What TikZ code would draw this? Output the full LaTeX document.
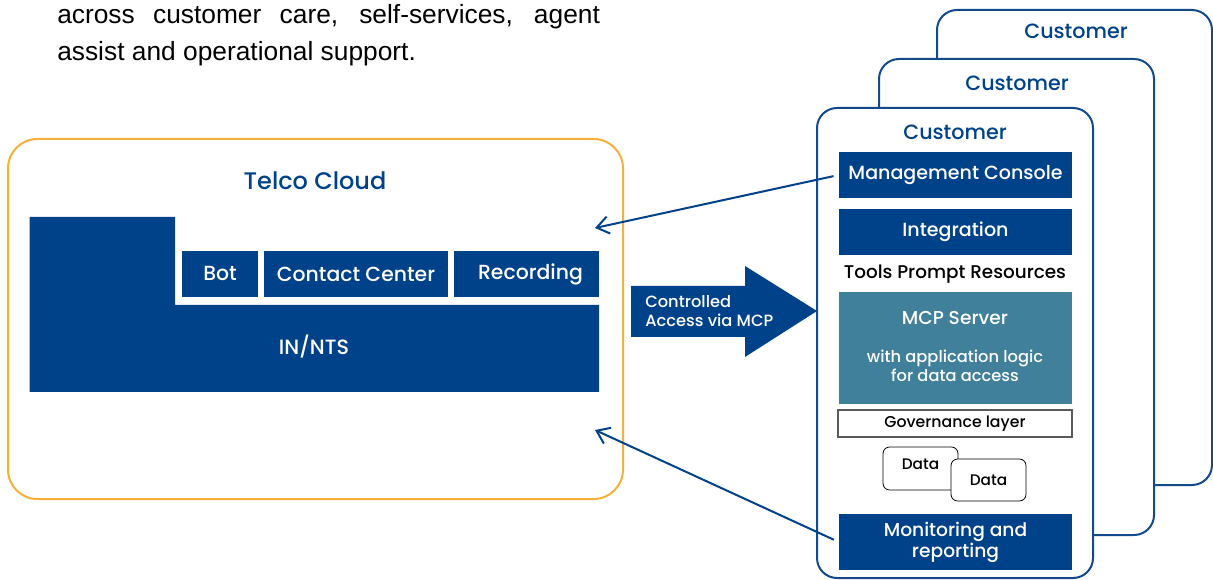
\documentclass[tikz,border=0pt]{standalone}
\usepackage{fontspec}
\setmainfont{Poppins}[UprightFont={* Medium}]
\newfontfamily\arialfont{Liberation Sans}
\usetikzlibrary{arrows.meta,positioning}
\definecolor{navy}{RGB}{0,66,137}
\definecolor{cardblue}{RGB}{18,74,140}
\definecolor{teal}{RGB}{64,128,155}
\definecolor{amber}{RGB}{246,176,58}
\definecolor{govgray}{RGB}{90,90,90}
\newcommand\nohyph{\hyphenpenalty=10000\relax\exhyphenpenalty=10000\relax}
\begin{document}
\begin{tikzpicture}[x=0.75pt,y=-0.75pt,
  blk/.style={fill=navy,text=white,inner sep=0pt,font=\fontsize{14.3}{16}\selectfont},
  card/.style={draw=cardblue,line width=1.5pt,fill=white,rounded corners=15pt},
  lbl/.style={text=navy,inner sep=0pt,font=\fontsize{15.5}{17}\selectfont},
  dat/.style={draw=black,line width=0.6pt,fill=white,rounded corners=5pt,minimum width=56.25pt,inner sep=0pt,font=\fontsize{11.5}{13}\selectfont},
  link/.style={draw=navy,line width=1.5pt,-{Straight Barb[length=9pt,width=13pt,line width=1.5pt]}}]
\useasboundingbox (0,0) rectangle (1213,580);
\node[anchor=base west,text width=407pt,align=justify,inner sep=0pt,font=\arialfont\fontsize{19.75}{27.75}\selectfont\nohyph] (intro) at (57,24)
  {across customer care, self-services, agent assist and operational support.\par};
\draw[draw=amber,line width=1.5pt,rounded corners=22pt] (8,139) rectangle (623,499);
\node[lbl,font=\fontsize{18}{20}\selectfont] (telco) at (315,181) {Telco Cloud};
\fill[navy] (29.5,217) -- (175,217) -- (175,305) -- (599,305) -- (599,392) -- (29.5,392) -- cycle;
\node[text=white,font=\fontsize{15.5}{17}\selectfont] (innts) at (314,347) {IN/NTS};
\node[blk,minimum width=57pt,minimum height=34.5pt,font=\fontsize{15.3}{17}\selectfont] (bot) at (220,274) {Bot};
\node[blk,minimum width=138pt,minimum height=34.5pt,font=\fontsize{15.3}{17}\selectfont] (cc) at (356,274) {Contact Center};
\node[blk,minimum width=108.75pt,minimum height=34.5pt,font=\fontsize{15.3}{17}\selectfont] (rec) at (526.5,274) {\hspace{6pt}Recording};
\fill[navy] (631,286) -- (745,286) -- (745,266) -- (817,311) -- (745,357) -- (745,337) -- (631,337) -- cycle;
\node[anchor=west,align=left,text=white,inner sep=0pt,font=\fontsize{12.2}{14.25}\selectfont] (ctrl) at (645,311) {Controlled\\Access via MCP};
\draw[card] (937,10) rectangle (1212,485);
\node[lbl] (cust3) at (1076,31) {Customer};
\draw[card] (879,59) rectangle (1154,535);
\node[lbl] (cust2) at (1017,83) {Customer};
\draw[card] (817,108) rectangle (1093,578);
\node[lbl] (cust1) at (955,132) {Customer};
\node[blk,minimum width=174.75pt,minimum height=34.5pt] (mc) at (955.5,175) {Management Console};
\node[blk,minimum width=174.75pt,minimum height=34.5pt] (integ) at (955.5,232) {Integration};
\node[inner sep=0pt,font=\fontsize{13.8}{15}\selectfont] (tools) at (955,274) {Tools Prompt Resources};
\node[fill=teal,minimum width=174.75pt,minimum height=84pt,inner sep=0pt] (mcp) at (955.5,348) {};
\node[text=white,inner sep=0pt,font=\fontsize{14}{16}\selectfont] (mcpname) at (955,318) {MCP Server};
\node[text=white,inner sep=0pt,align=center,font=\fontsize{12.2}{14.25}\selectfont] (mcplogic) at (955,366) {with application logic\\for data access};
\node[draw=govgray,line width=0.8pt,minimum width=175.5pt,minimum height=20.25pt,inner sep=0pt,font=\fontsize{11.8}{13}\selectfont] (gov) at (955,423.5) {Governance layer};
\node[dat,minimum height=32.25pt] (data1) at (920.5,468.5) {};
\node[anchor=north,inner sep=0pt,font=\fontsize{11.5}{13}\selectfont] at (data1.north) [yshift=-9pt] {Data};
\node[dat,minimum height=31.5pt] (data2) at (988.5,480) {Data};
\node[blk,minimum width=174.75pt,minimum height=42pt,align=center,font=\fontsize{14}{15.75}\selectfont] (mon) at (955.5,542) {Monitoring and\\reporting};
\coordinate (telcoin1) at (595,228);
\coordinate (telcoin2) at (595,430);
\draw[link,shorten <=4pt] (mc.west) -- (telcoin1);
\draw[link,shorten <=4pt] (mon.west) -- (telcoin2);
\end{tikzpicture}
\end{document}
